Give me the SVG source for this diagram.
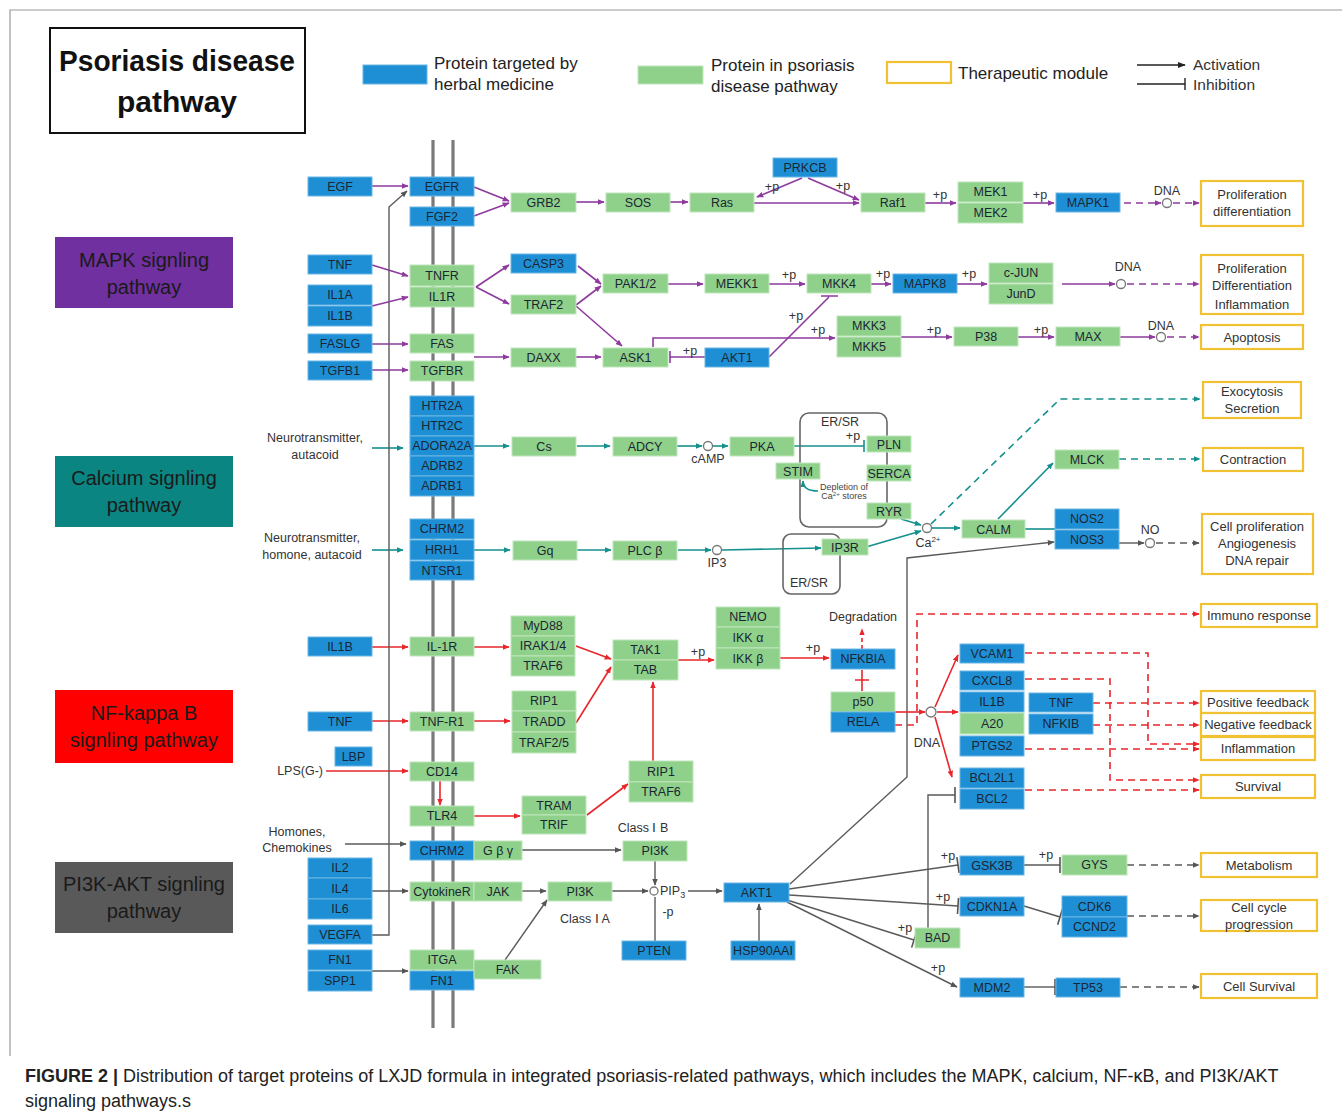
<svg xmlns="http://www.w3.org/2000/svg" width="1342" height="1115" viewBox="0 0 1342 1115">
<defs>
<marker id="aP" viewBox="0 0 10 10" refX="9" refY="5" markerWidth="7" markerHeight="7" markerUnits="userSpaceOnUse" orient="auto"><path d="M0,1 L10,5 L0,9z" fill="#8e3a9e"/></marker>
<marker id="aT" viewBox="0 0 10 10" refX="9" refY="5" markerWidth="7" markerHeight="7" markerUnits="userSpaceOnUse" orient="auto"><path d="M0,1 L10,5 L0,9z" fill="#14908f"/></marker>
<marker id="aR" viewBox="0 0 10 10" refX="9" refY="5" markerWidth="7" markerHeight="7" markerUnits="userSpaceOnUse" orient="auto"><path d="M0,1 L10,5 L0,9z" fill="#e8262b"/></marker>
<marker id="aG" viewBox="0 0 10 10" refX="9" refY="5" markerWidth="7" markerHeight="7" markerUnits="userSpaceOnUse" orient="auto"><path d="M0,1 L10,5 L0,9z" fill="#555"/></marker>
<marker id="aK" viewBox="0 0 10 10" refX="9" refY="5" markerWidth="8" markerHeight="8" markerUnits="userSpaceOnUse" orient="auto"><path d="M0,1 L10,5 L0,9z" fill="#222"/></marker>
<marker id="bP" viewBox="0 0 4 12" refX="2" refY="6" markerWidth="4" markerHeight="12" markerUnits="userSpaceOnUse" orient="auto"><path d="M2,0 V12" stroke="#8e3a9e" stroke-width="1.6"/></marker>
<marker id="bT" viewBox="0 0 4 12" refX="2" refY="6" markerWidth="4" markerHeight="12" markerUnits="userSpaceOnUse" orient="auto"><path d="M2,0 V12" stroke="#14908f" stroke-width="1.6"/></marker>
<marker id="bG" viewBox="0 0 4 16" refX="2" refY="8" markerWidth="4" markerHeight="16" markerUnits="userSpaceOnUse" orient="auto"><path d="M2,0 V16" stroke="#555" stroke-width="1.6"/></marker>
<marker id="bK" viewBox="0 0 4 12" refX="2" refY="6" markerWidth="4" markerHeight="12" markerUnits="userSpaceOnUse" orient="auto"><path d="M2,0 V12" stroke="#222" stroke-width="1.4"/></marker>
</defs>
<style>
text{font-family:"Liberation Sans",Arial,sans-serif}
.b{fill:#1f8fd5;stroke:#6bb6e4;stroke-width:1}
.g{fill:#8fd18a;stroke:#bfe6bb;stroke-width:1}
.y{fill:#fff;stroke:#f0c232;stroke-width:2.2}
.t{font-size:12.5px;text-anchor:middle;fill:#1b2633}
.m{font-size:13px;text-anchor:middle;fill:#333}
.l{font-size:12.5px;text-anchor:middle;fill:#333}
.le{font-size:12.5px;text-anchor:end;fill:#333}
.ls{font-size:12.5px;text-anchor:start;fill:#333}
.s{font-size:9px;text-anchor:middle;fill:#444}
.pw{font-size:20px;text-anchor:middle;fill:#1a1a1a}
.lg{font-size:17px;fill:#222}
.pl{stroke:#8e3a9e;stroke-width:1.6;fill:none}
.tl{stroke:#14908f;stroke-width:1.6;fill:none}
.rl{stroke:#e8262b;stroke-width:1.6;fill:none}
.gl{stroke:#5a5a5a;stroke-width:1.4;fill:none}
.d{stroke-dasharray:7 5}
.c{fill:#fff;stroke:#777;stroke-width:1.3}
.mem{stroke:#7a7a7a;stroke-width:3.2;fill:none}
</style>
<rect width="1342" height="1115" fill="#fff"/>
<path d="M10,1056 V10 H1342" stroke="#9a9a9a" stroke-width="1.2" fill="none"/>

<g id="title"><rect x="50" y="28" width="255" height="105" fill="#fff" stroke="#111" stroke-width="2"/>
<text x="177" y="71" font-size="30" font-weight="bold" text-anchor="middle" fill="#111" textLength="236" lengthAdjust="spacingAndGlyphs">Psoriasis disease</text>
<text x="177" y="112" font-size="30" font-weight="bold" text-anchor="middle" fill="#111">pathway</text></g>

<g id="legend">
<rect x="363" y="65" width="64" height="19" class="b"/>
<text x="434" y="69" class="lg">Protein targeted  by</text><text x="434" y="90" class="lg">herbal medicine</text>
<rect x="638" y="66" width="65" height="18" class="g"/>
<text x="711" y="71" class="lg">Protein in psoriasis</text><text x="711" y="92" class="lg">disease pathway</text>
<rect x="887" y="62" width="64" height="21" class="y"/>
<text x="958" y="79" class="lg">Therapeutic module</text>
<path d="M1137,65 H1185" stroke="#222" stroke-width="1.3" marker-end="url(#aK)"/>
<path d="M1137,84 H1185" stroke="#222" stroke-width="1.3" marker-end="url(#bK)"/>
<text x="1193" y="70" font-size="15.5" fill="#333">Activation</text>
<text x="1193" y="90" font-size="15.5" fill="#333">Inhibition</text>
</g>

<g id="pathway-mapk"><rect x="55" y="237" width="178" height="71" fill="#7030a0"/><text x="144" y="267" class="pw">MAPK signling</text><text x="144" y="294" class="pw">pathway</text></g>
<g id="pathway-calcium"><rect x="55" y="456" width="178" height="71" fill="#0b8582"/><text x="144" y="485" class="pw">Calcium signling</text><text x="144" y="512" class="pw">pathway</text></g>
<g id="pathway-nfkb"><rect x="55" y="690" width="178" height="73" fill="#ff0000"/><text x="144" y="720" class="pw">NF-kappa B</text><text x="144" y="747" class="pw">signling pathway</text></g>
<g id="pathway-pi3k"><rect x="55" y="862" width="178" height="71" fill="#595959"/><text x="144" y="891" class="pw">PI3K-AKT signling</text><text x="144" y="918" class="pw">pathway</text></g>

<g id="membrane"><path d="M433,140 V1028 M453,140 V1028" class="mem"/></g>

<g id="connectors">
<!-- MAPK -->
<path class="pl" d="M372,186 H408" marker-end="url(#aP)"/>
<path class="pl" d="M474,187 L509,201" marker-end="url(#aP)"/>
<path class="pl" d="M474,216 L509,203" marker-end="url(#aP)"/>
<path class="pl" d="M576,202 H604" marker-end="url(#aP)"/>
<path class="pl" d="M670,202 H688" marker-end="url(#aP)"/>
<path class="pl" d="M754,203 H859" marker-end="url(#aP)"/>
<path class="pl" d="M802,178 L757,197" marker-end="url(#aP)"/>
<path class="pl" d="M808,178 L859,200" marker-end="url(#aP)"/>
<path class="pl" d="M925,203 H956" marker-end="url(#aP)"/>
<path class="pl" d="M1023,203 H1054" marker-end="url(#aP)"/>
<path class="pl d" d="M1124,203 H1161" marker-end="url(#aP)"/>
<path class="pl d" d="M1173,203 H1199" marker-end="url(#aP)"/>
<path class="pl" d="M372,265 L408,276" marker-end="url(#aP)"/>
<path class="pl" d="M372,306 L408,297" marker-end="url(#aP)"/>
<path class="pl" d="M476,287 L509,265" marker-end="url(#aP)"/>
<path class="pl" d="M476,287 L509,304" marker-end="url(#aP)"/>
<path class="pl" d="M578,266 L601,284" marker-end="url(#aP)"/>
<path class="pl" d="M576,305 L601,286" marker-end="url(#aP)"/>
<path class="pl" d="M576,306 L622,346" marker-end="url(#aP)"/>
<path class="pl" d="M668,284 H703" marker-end="url(#aP)"/>
<path class="pl" d="M769,284 H805" marker-end="url(#aP)"/>
<path class="pl" d="M871,284 H891" marker-end="url(#aP)"/>
<path class="pl" d="M957,284 H987" marker-end="url(#aP)"/>
<path class="pl" d="M1062,284 H1115" marker-end="url(#aP)"/>
<path class="pl d" d="M1127,284 H1199" marker-end="url(#aP)"/>
<path class="pl" d="M372,344 H408" marker-end="url(#aP)"/>
<path class="pl" d="M372,370 H408" marker-end="url(#aP)"/>
<path class="pl" d="M474,357 H509" marker-end="url(#aP)"/>
<path class="pl" d="M576,357 H601" marker-end="url(#aP)"/>
<path class="pl" d="M705,357 H670" marker-end="url(#bP)"/>
<path class="pl" d="M769,357 L829,297 M821,296 H838"/>
<path class="pl" d="M653,347 V338 H835" marker-end="url(#aP)"/>
<path class="pl" d="M901,337 H952" marker-end="url(#aP)"/>
<path class="pl" d="M1018,337 H1054" marker-end="url(#aP)"/>
<path class="pl" d="M1120,337 H1155" marker-end="url(#aP)"/>
<path class="pl d" d="M1167,337 H1199" marker-end="url(#aP)"/>
<!-- Calcium -->
<path class="tl" d="M372,448 H403" marker-end="url(#aT)"/>
<path class="tl" d="M474,446 H509" marker-end="url(#aT)"/>
<path class="tl" d="M577,446 H610" marker-end="url(#aT)"/>
<path class="tl" d="M677,446 H702" marker-end="url(#aT)"/>
<path class="tl" d="M713,446 H728" marker-end="url(#aT)"/>
<path class="tl" d="M794,446 H864" marker-end="url(#bT)"/>
<path class="tl" d="M818,491 Q803,491 803,481" marker-end="url(#aT)"/>
<path class="tl" d="M901,519 L921,525" marker-end="url(#aT)"/>
<path class="tl" d="M932,528 H960" marker-end="url(#aT)"/>
<path class="tl d" d="M931,524 L1060,399 H1200" marker-end="url(#aT)"/>
<path class="tl" d="M998,519 L1053,463" marker-end="url(#aT)"/>
<path class="tl" d="M1025,529 H1055"/>
<path class="tl d" d="M1119,459 H1200" marker-end="url(#aT)"/>
<path class="tl" d="M372,550 H403" marker-end="url(#aT)"/>
<path class="tl" d="M474,550 H510" marker-end="url(#aT)"/>
<path class="tl" d="M577,550 H611" marker-end="url(#aT)"/>
<path class="tl" d="M678,550 H711" marker-end="url(#aT)"/>
<path class="tl" d="M722,550 L821,548" marker-end="url(#aT)"/>
<path class="tl" d="M866,547 L921,531" marker-end="url(#aT)"/>
<!-- grey: AKT1 to NOS3, NO -->
<path class="gl" d="M790,884 L907,777 V558 L1054,542" marker-end="url(#aG)"/>
<path class="gl" d="M1119,543 H1144" marker-end="url(#aG)"/>
<path class="gl d" d="M1156,543 H1199" marker-end="url(#aG)"/>
<!-- NF-kB -->
<path class="rl" d="M372,647 H408" marker-end="url(#aR)"/>
<path class="rl" d="M474,647 H509" marker-end="url(#aR)"/>
<path class="rl" d="M576,646 L611,659" marker-end="url(#aR)"/>
<path class="rl" d="M576,723 L611,667" marker-end="url(#aR)"/>
<path class="rl" d="M372,721 H408" marker-end="url(#aR)"/>
<path class="rl" d="M474,721 H510" marker-end="url(#aR)"/>
<path class="rl" d="M326,771 H408" marker-end="url(#aR)"/>
<path class="rl" d="M440,781 V805" marker-end="url(#aR)"/>
<path class="rl" d="M474,816 H520" marker-end="url(#aR)"/>
<path class="rl" d="M587,815 L628,784" marker-end="url(#aR)"/>
<path class="rl" d="M653,761 V682" marker-end="url(#aR)"/>
<path class="rl" d="M678,660 H714" marker-end="url(#aR)"/>
<path class="rl" d="M780,658 H829" marker-end="url(#aR)"/>
<path class="rl" d="M862,649 V629" stroke-dasharray="4 3" marker-end="url(#aR)"/>
<path class="rl" d="M862,670 V691 M855,680 H869"/>
<path class="rl" d="M895,712 H925" marker-end="url(#aR)"/>
<path class="rl" d="M935,707 L958,655" marker-end="url(#aR)"/>
<path class="rl" d="M937,712 H958" marker-end="url(#aR)"/>
<path class="rl" d="M935,717 L952,777" marker-end="url(#aR)"/>
<path class="rl d" d="M895,725 H917 V614 H1199" marker-end="url(#aR)"/>
<path class="rl d" d="M1025,653 H1148 V744 H1199" marker-end="url(#aR)"/>
<path class="rl d" d="M1025,679 H1110 V780 H1199" marker-end="url(#aR)"/>
<path class="rl d" d="M1093,703 H1199" marker-end="url(#aR)"/>
<path class="rl d" d="M1093,725 H1199" marker-end="url(#aR)"/>
<path class="rl d" d="M1025,749 H1199" marker-end="url(#aR)"/>
<path class="rl d" d="M1025,790 H1199" marker-end="url(#aR)"/>
<!-- PI3K-AKT -->
<path class="gl" d="M372,935 H389 V207 L407,191" marker-end="url(#aG)"/>
<path class="gl" d="M345,844 H406" marker-end="url(#aG)"/>
<path class="gl" d="M522,850 H621" marker-end="url(#aG)"/>
<path class="gl" d="M372,891 H408" marker-end="url(#aG)"/>
<path class="gl" d="M522,891 H546" marker-end="url(#aG)"/>
<path class="gl" d="M505,960 L547,900" marker-end="url(#aG)"/>
<path class="gl" d="M372,971 H408" marker-end="url(#aG)"/>
<path class="gl" d="M612,891 H648" marker-end="url(#aG)"/>
<path class="gl" d="M655,861 V885" marker-end="url(#aG)"/>
<path class="gl" d="M655,941 V897"/>
<path class="gl" d="M688,891 H722" marker-end="url(#aG)"/>
<path class="gl" d="M759,941 V904" marker-end="url(#aG)"/>
<path class="gl" d="M789,889 L958,865" marker-end="url(#bG)"/>
<path class="gl" d="M789,895 L958,906" marker-end="url(#bG)"/>
<path class="gl" d="M787,900 L914,940" marker-end="url(#bG)"/>
<path class="gl" d="M787,902 L957,987" marker-end="url(#aG)"/>
<path class="gl" d="M928,928 V795 H955" marker-end="url(#bG)"/>
<path class="gl" d="M1024,865 H1060" marker-end="url(#bG)"/>
<path class="gl" d="M1024,906 L1060,917" marker-end="url(#bG)"/>
<path class="gl" d="M1023,987 H1055" marker-end="url(#bG)"/>
<path class="gl d" d="M1127,865 H1199" marker-end="url(#aG)"/>
<path class="gl d" d="M1127,916 H1199" marker-end="url(#aG)"/>
<path class="gl d" d="M1120,987 H1199" marker-end="url(#aG)"/>
</g>

<g id="compartments">
<rect x="800" y="413" width="87" height="114" rx="9" fill="none" stroke="#666" stroke-width="1.6"/>
<rect x="783" y="534" width="57" height="60" rx="8" fill="none" stroke="#666" stroke-width="1.6"/>
</g>

<g id="junctions">
<circle cx="1167" cy="203" r="4.5" class="c"/>
<circle cx="1121" cy="284" r="4.5" class="c"/>
<circle cx="1161" cy="337" r="4.5" class="c"/>
<circle cx="708" cy="446" r="4.5" class="c"/>
<circle cx="717" cy="550" r="4.5" class="c"/>
<circle cx="927" cy="528" r="4.5" class="c"/>
<circle cx="1150" cy="543" r="4.5" class="c"/>
<circle cx="931" cy="712" r="5" class="c"/>
<circle cx="654" cy="891" r="4" class="c"/>
</g>

<!-- MAPK nodes -->
<g id="n-EGF"><rect class="b" x="308" y="177" width="64" height="19"/><text class="t" x="340" y="190.8">EGF</text></g>
<g id="n-EGFR"><rect class="b" x="410" y="177" width="64" height="19"/><text class="t" x="442" y="190.8">EGFR</text></g>
<g id="n-FGF2"><rect class="b" x="410" y="207" width="64" height="19"/><text class="t" x="442" y="220.8">FGF2</text></g>
<g id="n-GRB2"><rect class="g" x="511" y="193" width="65" height="19"/><text class="t" x="543.5" y="206.8">GRB2</text></g>
<g id="n-SOS"><rect class="g" x="606" y="193" width="64" height="19"/><text class="t" x="638" y="206.8">SOS</text></g>
<g id="n-Ras"><rect class="g" x="690" y="193" width="64" height="19"/><text class="t" x="722" y="206.8">Ras</text></g>
<g id="n-PRKCB"><rect class="b" x="773" y="158" width="64" height="19"/><text class="t" x="805" y="171.8">PRKCB</text></g>
<g id="n-Raf1"><rect class="g" x="861" y="193" width="64" height="19"/><text class="t" x="893" y="206.8">Raf1</text></g>
<g id="n-MEK1"><rect class="g" x="958" y="182" width="65" height="20"/><text class="t" x="990.5" y="196.3">MEK1</text></g>
<g id="n-MEK2"><rect class="g" x="958" y="203" width="65" height="20"/><text class="t" x="990.5" y="217.3">MEK2</text></g>
<g id="n-MAPK1"><rect class="b" x="1056" y="193" width="64" height="19"/><text class="t" x="1088" y="206.8">MAPK1</text></g>
<g id="n-TNF-a"><rect class="b" x="308" y="255" width="64" height="19"/><text class="t" x="340" y="268.8">TNF</text></g>
<g id="n-IL1A"><rect class="b" x="308" y="285" width="64" height="20"/><text class="t" x="340" y="299.3">IL1A</text></g>
<g id="n-IL1B-a"><rect class="b" x="308" y="306" width="64" height="20"/><text class="t" x="340" y="320.3">IL1B</text></g>
<g id="n-TNFR"><rect class="g" x="410" y="265" width="64" height="21"/><text class="t" x="442" y="279.8">TNFR</text></g>
<g id="n-IL1R"><rect class="g" x="410" y="287" width="64" height="20"/><text class="t" x="442" y="301.3">IL1R</text></g>
<g id="n-FASLG"><rect class="b" x="308" y="334" width="64" height="19"/><text class="t" x="340" y="347.8">FASLG</text></g>
<g id="n-FAS"><rect class="g" x="410" y="334" width="64" height="19"/><text class="t" x="442" y="347.8">FAS</text></g>
<g id="n-TGFB1"><rect class="b" x="308" y="361" width="64" height="19"/><text class="t" x="340" y="374.8">TGFB1</text></g>
<g id="n-TGFBR"><rect class="g" x="410" y="361" width="64" height="20"/><text class="t" x="442" y="375.3">TGFBR</text></g>
<g id="n-CASP3"><rect class="b" x="511" y="254" width="65" height="19"/><text class="t" x="543.5" y="267.8">CASP3</text></g>
<g id="n-TRAF2"><rect class="g" x="511" y="295" width="65" height="19"/><text class="t" x="543.5" y="308.8">TRAF2</text></g>
<g id="n-DAXX"><rect class="g" x="511" y="348" width="65" height="19"/><text class="t" x="543.5" y="361.8">DAXX</text></g>
<g id="n-PAK12"><rect class="g" x="603" y="274" width="65" height="19"/><text class="t" x="635.5" y="287.8">PAK1/2</text></g>
<g id="n-MEKK1"><rect class="g" x="705" y="274" width="64" height="19"/><text class="t" x="737" y="287.8">MEKK1</text></g>
<g id="n-MKK4"><rect class="g" x="807" y="274" width="64" height="19"/><text class="t" x="839" y="287.8">MKK4</text></g>
<g id="n-MAPK8"><rect class="b" x="893" y="274" width="64" height="19"/><text class="t" x="925" y="287.8">MAPK8</text></g>
<g id="n-cJUN"><rect class="g" x="989" y="263" width="64" height="20"/><text class="t" x="1021" y="277.3">c-JUN</text></g>
<g id="n-JunD"><rect class="g" x="989" y="284" width="64" height="20"/><text class="t" x="1021" y="298.3">JunD</text></g>
<g id="n-ASK1"><rect class="g" x="603" y="348" width="65" height="19"/><text class="t" x="635.5" y="361.8">ASK1</text></g>
<g id="n-AKT1-a"><rect class="b" x="705" y="348" width="64" height="19"/><text class="t" x="737" y="361.8">AKT1</text></g>
<g id="n-MKK3"><rect class="g" x="837" y="316" width="64" height="20"/><text class="t" x="869" y="330.3">MKK3</text></g>
<g id="n-MKK5"><rect class="g" x="837" y="337" width="64" height="20"/><text class="t" x="869" y="351.3">MKK5</text></g>
<g id="n-P38"><rect class="g" x="954" y="327" width="64" height="19"/><text class="t" x="986" y="340.8">P38</text></g>
<g id="n-MAX"><rect class="g" x="1056" y="327" width="64" height="19"/><text class="t" x="1088" y="340.8">MAX</text></g>
<g id="m-prolif1"><rect class="y" x="1201" y="181" width="102" height="45"/><text class="m" x="1252" y="199">Proliferation</text><text class="m" x="1252" y="216">differentiation</text></g>
<g id="m-prolif2"><rect class="y" x="1201" y="255" width="102" height="59"/><text class="m" x="1252" y="273">Proliferation</text><text class="m" x="1252" y="290">Differentiation</text><text class="m" x="1252" y="309">Inflammation</text></g>
<g id="m-apoptosis"><rect class="y" x="1201" y="325" width="102" height="24"/><text class="m" x="1252" y="341.5">Apoptosis</text></g>

<!-- Calcium nodes -->
<g id="n-HTR2A"><rect class="b" x="410" y="396" width="64" height="20"/><text class="t" x="442" y="410.3">HTR2A</text></g>
<g id="n-HTR2C"><rect class="b" x="410" y="416" width="64" height="20"/><text class="t" x="442" y="430.3">HTR2C</text></g>
<g id="n-ADORA2A"><rect class="b" x="410" y="436" width="64" height="20"/><text class="t" x="442" y="450.3">ADORA2A</text></g>
<g id="n-ADRB2"><rect class="b" x="410" y="456" width="64" height="20"/><text class="t" x="442" y="470.3">ADRB2</text></g>
<g id="n-ADRB1"><rect class="b" x="410" y="476" width="64" height="20"/><text class="t" x="442" y="490.3">ADRB1</text></g>
<g id="n-Cs"><rect class="g" x="512" y="437" width="64" height="19"/><text class="t" x="544" y="450.8">Cs</text></g>
<g id="n-ADCY"><rect class="g" x="613" y="437" width="64" height="19"/><text class="t" x="645" y="450.8">ADCY</text></g>
<g id="n-PKA"><rect class="g" x="730" y="437" width="64" height="19"/><text class="t" x="762" y="450.8">PKA</text></g>
<g id="n-PLN"><rect class="g" x="867" y="436" width="44" height="16"/><text class="t" x="889" y="448.5">PLN</text></g>
<g id="n-STIM"><rect class="g" x="776" y="463" width="44" height="16"/><text class="t" x="798" y="475.5">STIM</text></g>
<g id="n-SERCA"><rect class="g" x="867" y="465" width="44" height="16"/><text class="t" x="889" y="477.5">SERCA</text></g>
<g id="n-RYR"><rect class="g" x="867" y="503" width="44" height="16"/><text class="t" x="889" y="515.5">RYR</text></g>
<g id="n-CALM"><rect class="g" x="962" y="520" width="63" height="18"/><text class="t" x="993.5" y="533.5">CALM</text></g>
<g id="n-MLCK"><rect class="g" x="1055" y="450" width="64" height="19"/><text class="t" x="1087" y="463.8">MLCK</text></g>
<g id="n-NOS2"><rect class="b" x="1055" y="509" width="64" height="20"/><text class="t" x="1087" y="523.3">NOS2</text></g>
<g id="n-NOS3"><rect class="b" x="1055" y="530" width="64" height="19"/><text class="t" x="1087" y="543.8">NOS3</text></g>
<g id="n-CHRM2-a"><rect class="b" x="410" y="519" width="64" height="20"/><text class="t" x="442" y="533.3">CHRM2</text></g>
<g id="n-HRH1"><rect class="b" x="410" y="540" width="64" height="20"/><text class="t" x="442" y="554.3">HRH1</text></g>
<g id="n-NTSR1"><rect class="b" x="410" y="561" width="64" height="19"/><text class="t" x="442" y="574.8">NTSR1</text></g>
<g id="n-Gq"><rect class="g" x="513" y="541" width="64" height="19"/><text class="t" x="545" y="554.8">Gq</text></g>
<g id="n-PLCb"><rect class="g" x="613" y="541" width="64" height="19"/><text class="t" x="645" y="554.8">PLC β</text></g>
<g id="n-IP3R"><rect class="g" x="822" y="539" width="46" height="16"/><text class="t" x="845" y="551.5">IP3R</text></g>
<g id="m-exocytosis"><rect class="y" x="1203" y="382" width="98" height="36"/><text class="m" x="1252" y="396">Exocytosis</text><text class="m" x="1252" y="412.5">Secretion</text></g>
<g id="m-contraction"><rect class="y" x="1203" y="448" width="100" height="23"/><text class="m" x="1253" y="464">Contraction</text></g>
<g id="m-cellprolif"><rect class="y" x="1202" y="514" width="111" height="60"/><text class="m" x="1257" y="531">Cell proliferation</text><text class="m" x="1257" y="548">Angiogenesis</text><text class="m" x="1257" y="565">DNA repair</text></g>

<!-- NF-kB nodes -->
<g id="n-IL1B-b"><rect class="b" x="308" y="637" width="64" height="19"/><text class="t" x="340" y="650.8">IL1B</text></g>
<g id="n-IL-1R"><rect class="g" x="410" y="637" width="64" height="19"/><text class="t" x="442" y="650.8">IL-1R</text></g>
<g id="n-MyD88"><rect class="g" x="511" y="616" width="64" height="20"/><text class="t" x="543" y="630.3">MyD88</text></g>
<g id="n-IRAK14"><rect class="g" x="511" y="636" width="64" height="20"/><text class="t" x="543" y="650.3">IRAK1/4</text></g>
<g id="n-TRAF6-a"><rect class="g" x="511" y="656" width="64" height="20"/><text class="t" x="543" y="670.3">TRAF6</text></g>
<g id="n-TAK1"><rect class="g" x="613" y="640" width="65" height="20"/><text class="t" x="645.5" y="654.3">TAK1</text></g>
<g id="n-TAB"><rect class="g" x="613" y="660" width="65" height="20"/><text class="t" x="645.5" y="674.3">TAB</text></g>
<g id="n-NEMO"><rect class="g" x="716" y="607" width="64" height="20"/><text class="t" x="748" y="621.3">NEMO</text></g>
<g id="n-IKKa"><rect class="g" x="716" y="627" width="64" height="21"/><text class="t" x="748" y="641.8">IKK α</text></g>
<g id="n-IKKb"><rect class="g" x="716" y="648" width="64" height="21"/><text class="t" x="748" y="662.8">IKK β</text></g>
<g id="n-NFKBIA"><rect class="b" x="831" y="649" width="64" height="20"/><text class="t" x="863" y="663.3">NFKBIA</text></g>
<g id="n-p50"><rect class="g" x="831" y="692" width="64" height="20"/><text class="t" x="863" y="706.3">p50</text></g>
<g id="n-RELA"><rect class="b" x="831" y="712" width="64" height="20"/><text class="t" x="863" y="726.3">RELA</text></g>
<g id="n-TNF-b"><rect class="b" x="308" y="712" width="64" height="19"/><text class="t" x="340" y="725.8">TNF</text></g>
<g id="n-TNF-R1"><rect class="g" x="410" y="712" width="64" height="19"/><text class="t" x="442" y="725.8">TNF-R1</text></g>
<g id="n-RIP1-a"><rect class="g" x="512" y="691" width="64" height="20"/><text class="t" x="544" y="705.3">RIP1</text></g>
<g id="n-TRADD"><rect class="g" x="512" y="711" width="64" height="21"/><text class="t" x="544" y="725.8">TRADD</text></g>
<g id="n-TRAF25"><rect class="g" x="512" y="732" width="64" height="21"/><text class="t" x="544" y="746.8">TRAF2/5</text></g>
<g id="n-LBP"><rect class="b" x="335" y="747" width="37" height="19"/><text class="t" x="353.5" y="760.8">LBP</text></g>
<g id="n-CD14"><rect class="g" x="410" y="762" width="64" height="19"/><text class="t" x="442" y="775.8">CD14</text></g>
<g id="n-TLR4"><rect class="g" x="410" y="806" width="64" height="20"/><text class="t" x="442" y="820.3">TLR4</text></g>
<g id="n-TRAM"><rect class="g" x="522" y="796" width="64" height="19"/><text class="t" x="554" y="809.8">TRAM</text></g>
<g id="n-TRIF"><rect class="g" x="522" y="815" width="64" height="19"/><text class="t" x="554" y="828.8">TRIF</text></g>
<g id="n-RIP1-b"><rect class="g" x="629" y="761" width="64" height="21"/><text class="t" x="661" y="775.8">RIP1</text></g>
<g id="n-TRAF6-b"><rect class="g" x="629" y="782" width="64" height="20"/><text class="t" x="661" y="796.3">TRAF6</text></g>
<g id="n-VCAM1"><rect class="b" x="960" y="644" width="64" height="19"/><text class="t" x="992" y="657.8">VCAM1</text></g>
<g id="n-CXCL8"><rect class="b" x="960" y="671" width="64" height="19"/><text class="t" x="992" y="684.8">CXCL8</text></g>
<g id="n-IL1B-c"><rect class="b" x="960" y="692" width="64" height="20"/><text class="t" x="992" y="706.3">IL1B</text></g>
<g id="n-A20"><rect class="g" x="960" y="713" width="64" height="21"/><text class="t" x="992" y="727.8">A20</text></g>
<g id="n-PTGS2"><rect class="b" x="960" y="736" width="64" height="20"/><text class="t" x="992" y="750.3">PTGS2</text></g>
<g id="n-BCL2L1"><rect class="b" x="960" y="768" width="64" height="20"/><text class="t" x="992" y="782.3">BCL2L1</text></g>
<g id="n-BCL2"><rect class="b" x="960" y="789" width="64" height="20"/><text class="t" x="992" y="803.3">BCL2</text></g>
<g id="n-TNF-c"><rect class="b" x="1029" y="693" width="64" height="19"/><text class="t" x="1061" y="706.8">TNF</text></g>
<g id="n-NFKIB"><rect class="b" x="1029" y="714" width="64" height="20"/><text class="t" x="1061" y="728.3">NFKIB</text></g>
<g id="m-immuno"><rect class="y" x="1201" y="604" width="116" height="23"/><text class="m" x="1259" y="620">Immuno response</text></g>
<g id="m-posfb"><rect class="y" x="1201" y="691" width="114" height="22"/><text class="m" x="1258" y="706.5">Positive feedback</text></g>
<g id="m-negfb"><rect class="y" x="1201" y="713" width="114" height="23"/><text class="m" x="1258" y="729">Negative feedback</text></g>
<g id="m-inflam"><rect class="y" x="1201" y="737" width="114" height="23"/><text class="m" x="1258" y="753">Inflammation</text></g>
<g id="m-survival"><rect class="y" x="1201" y="775" width="114" height="23"/><text class="m" x="1258" y="791">Survival</text></g>

<!-- PI3K-AKT nodes -->
<g id="n-CHRM2-b"><rect class="b" x="410" y="841" width="64" height="19"/><text class="t" x="442" y="854.8">CHRM2</text></g>
<g id="n-Gbg"><rect class="g" x="474" y="841" width="48" height="19"/><text class="t" x="498" y="854.8">G β  γ</text></g>
<g id="n-PI3K-b"><rect class="g" x="623" y="841" width="64" height="20"/><text class="t" x="655" y="855.3">PI3K</text></g>
<g id="n-IL2"><rect class="b" x="308" y="858" width="64" height="20"/><text class="t" x="340" y="872.3">IL2</text></g>
<g id="n-IL4"><rect class="b" x="308" y="878" width="64" height="21"/><text class="t" x="340" y="892.8">IL4</text></g>
<g id="n-IL6"><rect class="b" x="308" y="899" width="64" height="20"/><text class="t" x="340" y="913.3">IL6</text></g>
<g id="n-VEGFA"><rect class="b" x="308" y="925" width="64" height="19"/><text class="t" x="340" y="938.8">VEGFA</text></g>
<g id="n-CytokineR"><rect class="g" x="410" y="882" width="64" height="19"/><text class="t" x="442" y="895.8">CytokineR</text></g>
<g id="n-JAK"><rect class="g" x="474" y="882" width="48" height="19"/><text class="t" x="498" y="895.8">JAK</text></g>
<g id="n-PI3K-a"><rect class="g" x="548" y="882" width="64" height="19"/><text class="t" x="580" y="895.8">PI3K</text></g>
<g id="n-PTEN"><rect class="b" x="622" y="941" width="64" height="19"/><text class="t" x="654" y="954.8">PTEN</text></g>
<g id="n-AKT1-b"><rect class="b" x="724" y="883" width="65" height="19"/><text class="t" x="756.5" y="896.8">AKT1</text></g>
<g id="n-HSP90AAI"><rect class="b" x="731" y="941" width="64" height="19"/><text class="t" x="763" y="954.8">HSP90AAI</text></g>
<g id="n-FN1-a"><rect class="b" x="308" y="950" width="64" height="20"/><text class="t" x="340" y="964.3">FN1</text></g>
<g id="n-SPP1"><rect class="b" x="308" y="971" width="64" height="20"/><text class="t" x="340" y="985.3">SPP1</text></g>
<g id="n-ITGA"><rect class="g" x="410" y="950" width="64" height="20"/><text class="t" x="442" y="964.3">ITGA</text></g>
<g id="n-FN1-b"><rect class="b" x="410" y="971" width="64" height="19"/><text class="t" x="442" y="984.8">FN1</text></g>
<g id="n-FAK"><rect class="g" x="474" y="960" width="67" height="19"/><text class="t" x="507.5" y="973.8">FAK</text></g>
<g id="n-GSK3B"><rect class="b" x="960" y="856" width="64" height="19"/><text class="t" x="992" y="869.8">GSK3B</text></g>
<g id="n-GYS"><rect class="g" x="1062" y="855" width="65" height="20"/><text class="t" x="1094.5" y="869.3">GYS</text></g>
<g id="n-CDKN1A"><rect class="b" x="960" y="897" width="64" height="19"/><text class="t" x="992" y="910.8">CDKN1A</text></g>
<g id="n-CDK6"><rect class="b" x="1062" y="896" width="65" height="21"/><text class="t" x="1094.5" y="910.8">CDK6</text></g>
<g id="n-CCND2"><rect class="b" x="1062" y="917" width="65" height="20"/><text class="t" x="1094.5" y="931.3">CCND2</text></g>
<g id="n-BAD"><rect class="g" x="915" y="928" width="45" height="20"/><text class="t" x="937.5" y="942.3">BAD</text></g>
<g id="n-MDM2"><rect class="b" x="960" y="978" width="64" height="19"/><text class="t" x="992" y="991.8">MDM2</text></g>
<g id="n-TP53"><rect class="b" x="1056" y="978" width="64" height="19"/><text class="t" x="1088" y="991.8">TP53</text></g>
<g id="m-metabolism"><rect class="y" x="1201" y="853" width="116" height="24"/><text class="m" x="1259" y="869.5">Metabolism</text></g>
<g id="m-cellcycle"><rect class="y" x="1201" y="900" width="116" height="31"/><text class="m" x="1259" y="912">Cell cycle</text><text class="m" x="1259" y="929">progression</text></g>
<g id="m-cellsurvival"><rect class="y" x="1201" y="974" width="116" height="24"/><text class="m" x="1259" y="990.5">Cell Survival</text></g>

<g id="labels">
<text class="l" x="772" y="191">+p</text><text class="l" x="843" y="190">+p</text>
<text class="l" x="940" y="199">+p</text><text class="l" x="1040" y="199">+p</text>
<text class="l" x="1167" y="195">DNA</text><text class="l" x="1128" y="271">DNA</text><text class="l" x="1161" y="330">DNA</text>
<text class="l" x="789" y="279">+p</text><text class="l" x="883" y="278">+p</text><text class="l" x="969" y="278">+p</text>
<text class="l" x="690" y="355">+p</text><text class="l" x="796" y="320">+p</text><text class="l" x="818" y="334">+p</text>
<text class="l" x="934" y="334">+p</text><text class="l" x="1041" y="334">+p</text>
<text class="l" x="315" y="442">Neurotransmitter,</text><text class="l" x="315" y="459">autacoid</text>
<text class="l" x="312" y="542">Neurotransmitter,</text><text class="l" x="312" y="559">homone, autacoid</text>
<text class="l" x="708" y="463">cAMP</text><text class="l" x="717" y="567">IP3</text>
<text class="l" x="840" y="426" font-size="11">ER/SR</text><text class="l" x="809" y="587" font-size="11">ER/SR</text>
<text class="l" x="853" y="440">+p</text>
<text class="s" x="844" y="490">Depletion of</text><text class="s" x="844" y="499">Ca<tspan font-size="6" dy="-3">2+</tspan><tspan dy="3"> stores</tspan></text>
<text class="l" x="928" y="547">Ca<tspan font-size="8" dy="-5">2+</tspan></text>
<text class="l" x="1150" y="534">NO</text>
<text class="l" x="863" y="621">Degradation</text>
<text class="l" x="698" y="656">+p</text><text class="l" x="813" y="652">+p</text>
<text class="l" x="927" y="747">DNA</text>
<text class="le" x="323" y="775">LPS(G-)</text>
<text class="l" x="297" y="836">Homones,</text><text class="l" x="297" y="852">Chemokines</text>
<text class="l" x="643" y="832">Class Ⅰ B</text><text class="l" x="585" y="923">Class Ⅰ A</text>
<text class="ls" x="660" y="895">PIP<tspan font-size="9" dy="3">3</tspan></text>
<text class="l" x="668" y="916">-p</text>
<text class="l" x="948" y="860">+p</text><text class="l" x="1046" y="859">+p</text>
<text class="l" x="943" y="901">+p</text><text class="l" x="905" y="932">+p</text><text class="l" x="938" y="972">+p</text>
</g>

<g id="caption">
<text x="25" y="1082" font-size="18" fill="#222"><tspan font-weight="bold">FIGURE 2 |</tspan> Distribution of target proteins of LXJD formula in integrated psoriasis-related pathways, which includes the MAPK, calcium, NF-κB, and PI3K/AKT</text>
<text x="25" y="1107" font-size="18" fill="#222">signaling pathways.s</text>
</g>
</svg>
